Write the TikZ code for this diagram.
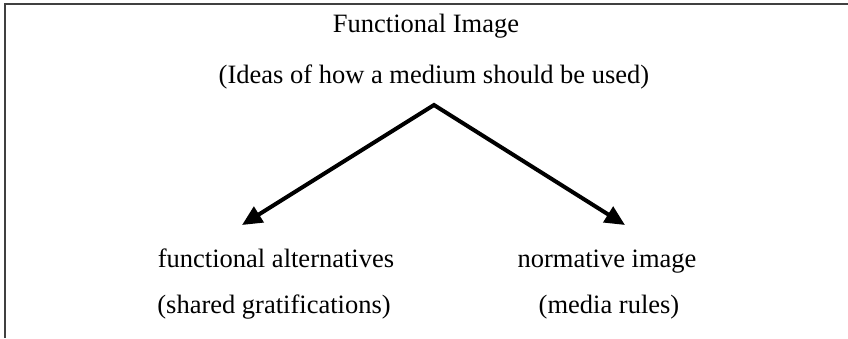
\documentclass[tikz,border=0pt]{standalone}
\usepackage{fontspec}
\setmainfont{Liberation Serif}
\usetikzlibrary{arrows.meta, positioning}

\begin{document}
\begin{tikzpicture}[
    x=1pt, y=-1pt,
    caption/.style={
        anchor=base,
        inner sep=0pt,
        font=\fontsize{26.5}{30}\selectfont
    },
    branch/.style={
        {Triangle[length=20pt, width=18pt]}-{Triangle[length=20pt, width=18pt]},
        line width=4pt
    }
]
    \useasboundingbox (0,0) rectangle (848,338);

    % Frame
    \draw[line width=2pt, black!75] (848,4) -- (5,4) -- (5,338);

    % Headings
    \node[caption] (funcimg) at (426,32) {Functional Image};
    \node[caption] (ideas) at (434,83) {(Ideas of how a medium should be used)};

    % Branches
    \node[caption] (alt) at (276,267) {functional alternatives};
    \node[caption] (shared) at (274,313) {(shared gratifications)};
    \node[caption] (norm) at (607,267) {normative image};
    \node[caption] (rules) at (609,313) {(media rules)};

    % Arrows
    \coordinate (apex) at (434,105);
    \coordinate (altTip) at (242,225);
    \coordinate (normTip) at (625,225);
    \draw[branch] (altTip) -- (apex) -- (normTip);

\end{tikzpicture}
\end{document}
